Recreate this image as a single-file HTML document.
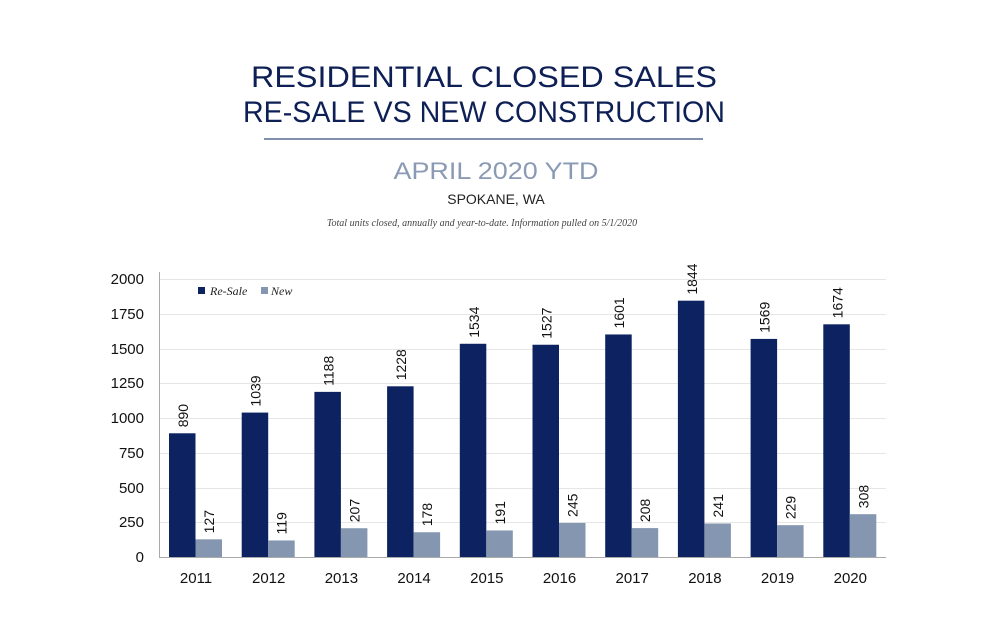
<!DOCTYPE html>
<html><head><style>
body{margin:0;background:#fff;}
svg text{font-family:"Liberation Sans",sans-serif;}
</style></head><body>
<svg width="1000" height="630" xmlns="http://www.w3.org/2000/svg">
<text x="484" y="87" text-anchor="middle" font-size="30" fill="#0d1f55" textLength="466" lengthAdjust="spacingAndGlyphs">RESIDENTIAL CLOSED SALES</text>
<text x="484" y="122" text-anchor="middle" font-size="30" fill="#0d1f55" textLength="482" lengthAdjust="spacingAndGlyphs">RE-SALE VS NEW CONSTRUCTION</text>
<rect x="264" y="138" width="439" height="2" fill="#8090ad"/>
<text x="496" y="179" text-anchor="middle" font-size="24" fill="#8a9ab5" textLength="205" lengthAdjust="spacingAndGlyphs">APRIL 2020 YTD</text>
<text x="496" y="204" text-anchor="middle" font-size="14" fill="#222">SPOKANE, WA</text>
<text x="482" y="226" text-anchor="middle" font-size="10" font-style="italic" fill="#444" font-family="Liberation Serif" style="font-family:'Liberation Serif',serif">Total units closed, annually and year-to-date.  Information pulled on 5/1/2020</text>
<g stroke="#e6e6e6" stroke-width="1">
<line x1="159" x2="886" y1="279.5" y2="279.5"/><line x1="159" x2="886" y1="314.5" y2="314.5"/>
<line x1="159" x2="886" y1="349.5" y2="349.5"/><line x1="159" x2="886" y1="383.5" y2="383.5"/>
<line x1="159" x2="886" y1="418.5" y2="418.5"/><line x1="159" x2="886" y1="453.5" y2="453.5"/>
<line x1="159" x2="886" y1="488.5" y2="488.5"/><line x1="159" x2="886" y1="522.5" y2="522.5"/>
</g>
<line x1="159.5" x2="159.5" y1="272" y2="557" stroke="#aaa"/>
<line x1="159" x2="886" y1="557.5" y2="557.5" stroke="#aaa"/>
<g font-size="15" fill="#111" text-anchor="end">
<text x="144" y="284">2000</text><text x="144" y="319">1750</text><text x="144" y="354">1500</text>
<text x="144" y="388">1250</text><text x="144" y="423">1000</text><text x="144" y="458">750</text>
<text x="144" y="493">500</text><text x="144" y="527">250</text><text x="144" y="562">0</text>
</g>
<rect x="198" y="287" width="7" height="7" fill="#0d2260"/>
<text x="210" y="295" font-size="12" font-style="italic" style="font-family:'Liberation Serif',serif" fill="#222">Re-Sale</text>
<rect x="261" y="287" width="7" height="7" fill="#8496b0"/>
<text x="271" y="295" font-size="12" font-style="italic" style="font-family:'Liberation Serif',serif" fill="#222">New</text>
<g id="bars"></g>
</svg>
<script>
var yrs=[2011,2012,2013,2014,2015,2016,2017,2018,2019,2020];
var rs=[890,1039,1188,1228,1534,1527,1601,1844,1569,1674];
var nw=[127,119,207,178,191,245,208,241,229,308];
var g=document.getElementById('bars'),h='';
var k=278/2000;
for(var i=0;i<10;i++){
 var c=196+i*72.7;
 var h1=rs[i]*k,h2=nw[i]*k;
 h+='<rect x="'+(c-27)+'" y="'+(557-h1)+'" width="26.5" height="'+h1+'" fill="#0d2260"/>';
 h+='<rect x="'+(c-0.5)+'" y="'+(557-h2)+'" width="26.5" height="'+h2+'" fill="#8496b0"/>';
 h+='<text transform="translate('+(c-8)+','+(557-h1-6)+') rotate(-90)" font-size="14" fill="#111">'+rs[i]+'</text>';
 h+='<text transform="translate('+(c+18)+','+(557-h2-6)+') rotate(-90)" font-size="14" fill="#111">'+nw[i]+'</text>';
 h+='<text x="'+c+'" y="583" font-size="15" text-anchor="middle" fill="#111">'+yrs[i]+'</text>';
}
g.innerHTML=h;
</script>
</body></html>
